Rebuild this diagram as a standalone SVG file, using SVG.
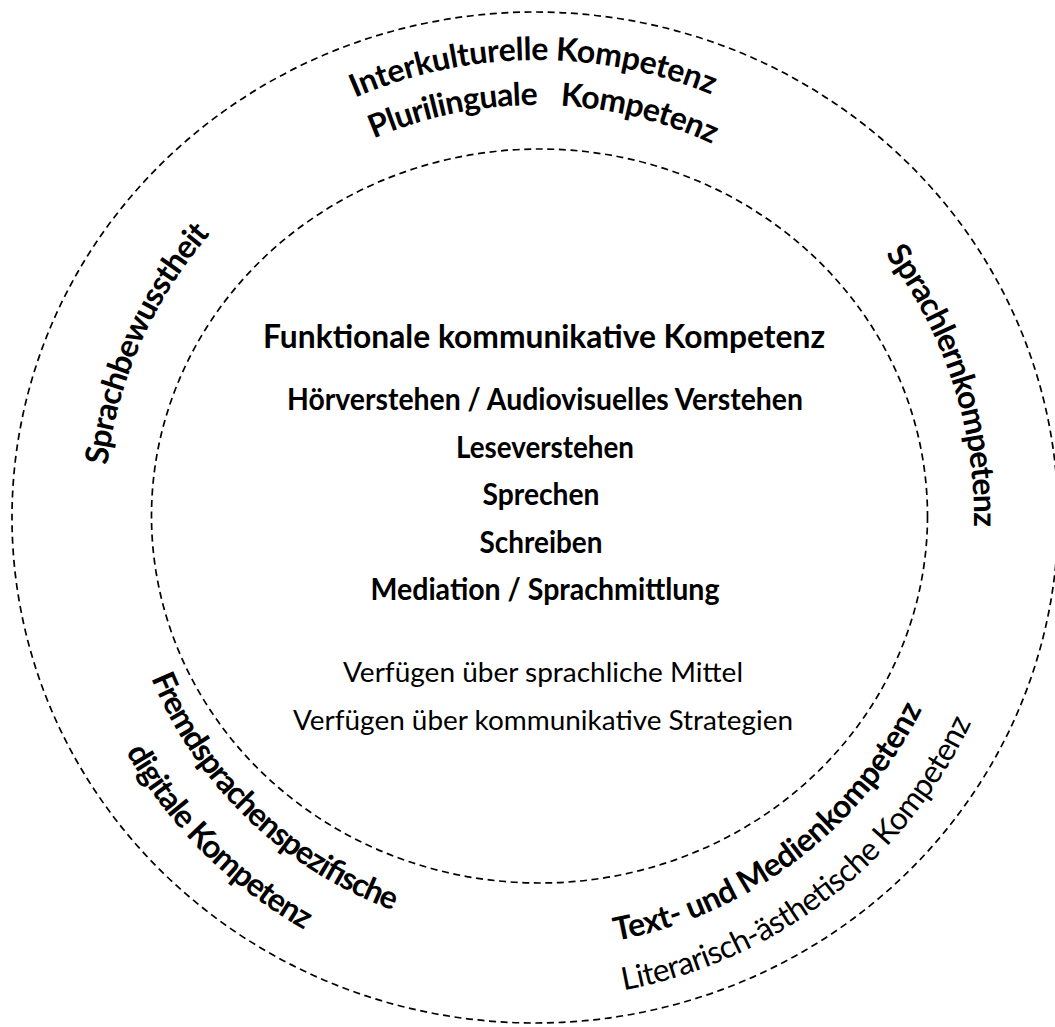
<svg xmlns="http://www.w3.org/2000/svg" xmlns:xlink="http://www.w3.org/1999/xlink" width="1055" height="1027" viewBox="0 0 1055 1027">
<style>
.ring{fill:none;stroke:#000;stroke-width:1.7;stroke-dasharray:7 4.6}
.b{font-family:Lato,"Open Sans","Liberation Sans",sans-serif;font-weight:700;fill:#000}
.r{font-family:Lato,"Open Sans","Liberation Sans",sans-serif;font-weight:400;fill:#000}
.c{text-anchor:middle}
</style>
<defs>
<path id="pTop1" d="M138.4,292.5 A458,458 0 0 1 931.6,285.6"/>
<path id="pTop2" d="M182.6,305.9 A413,413 0 0 1 897.9,317.2"/>
<path id="pLeft" d="M186.7,772.5 A433,433 0 0 1 491.7,87.4"/>
<path id="pRight" d="M627.9,90.6 A437,437 0 0 1 861.7,810.4"/>
<path id="pBL1" d="M131.1,418.3 A418,418 0 0 0 653.6,919.4"/>
<path id="pBL2" d="M79.9,396.4 A473,473 0 0 0 660.2,974.7"/>
<path id="pBR1" d="M369.7,914.1 A430,430 0 0 0 963.7,464.9"/>
<path id="pBR2" d="M354.1,961.8 A480,480 0 0 0 1012.8,454.5"/>
</defs>
<rect width="1055" height="1027" fill="#fff"/>
<g id="rings">
<ellipse class="ring" cx="535" cy="517.5" rx="523" ry="505.5"/>
<ellipse class="ring" cx="539.5" cy="516" rx="388" ry="367"/>
</g>
<g id="core">
<text class="b c" x="544" y="348" font-size="32" textLength="562" lengthAdjust="spacingAndGlyphs">Funktionale kommunikative Kompetenz</text>
<text class="b c" x="545" y="410" font-size="30" textLength="516" lengthAdjust="spacingAndGlyphs">Hörverstehen / Audiovisuelles Verstehen</text>
<text class="b c" x="545" y="458" font-size="30" textLength="178" lengthAdjust="spacingAndGlyphs">Leseverstehen</text>
<text class="b c" x="541" y="505" font-size="30" textLength="117" lengthAdjust="spacingAndGlyphs">Sprechen</text>
<text class="b c" x="541" y="553" font-size="30" textLength="123" lengthAdjust="spacingAndGlyphs">Schreiben</text>
<text class="b c" x="545" y="600" font-size="30" textLength="349" lengthAdjust="spacingAndGlyphs">Mediation / Sprachmittlung</text>
<text class="r c" x="543" y="682" font-size="27" textLength="400" lengthAdjust="spacingAndGlyphs">Verfügen über sprachliche Mittel</text>
<text class="r c" x="543" y="730" font-size="27" textLength="500" lengthAdjust="spacingAndGlyphs">Verfügen über kommunikative Strategien</text>
</g>
<g id="top">
<text class="b c" font-size="32"><textPath xlink:href="#pTop1" href="#pTop1" startOffset="50%" textLength="366">Interkulturelle Kompetenz</textPath></text>
<text class="b c" font-size="32"><textPath xlink:href="#pTop2" href="#pTop2" startOffset="50%" textLength="349">Plurilinguale <tspan dx="16">Kompetenz</tspan></textPath></text>
</g>
<g id="left">
<text class="b c" font-size="32"><textPath xlink:href="#pLeft" href="#pLeft" startOffset="50%" textLength="257">Sprachbewusstheit</textPath></text>
</g>
<g id="right">
<text class="b c" font-size="32"><textPath xlink:href="#pRight" href="#pRight" startOffset="50%" textLength="292">Sprachlernkompetenz</textPath></text>
</g>
<g id="bottom-left">
<text class="b c" font-size="32"><textPath xlink:href="#pBL1" href="#pBL1" startOffset="50%" textLength="345">Fremdsprachenspezifische</textPath></text>
<text class="b c" font-size="32"><textPath xlink:href="#pBL2" href="#pBL2" startOffset="50%" textLength="255">digitale Kompetenz</textPath></text>
</g>
<g id="bottom-right">
<text class="b c" font-size="32"><textPath xlink:href="#pBR1" href="#pBR1" startOffset="50%" textLength="398">Text- und Medienkompetenz</textPath></text>
<text class="r c" font-size="31.5"><textPath xlink:href="#pBR2" href="#pBR2" startOffset="50%" textLength="456">Literarisch-ästhetische Kompetenz</textPath></text>
</g>
</svg>
